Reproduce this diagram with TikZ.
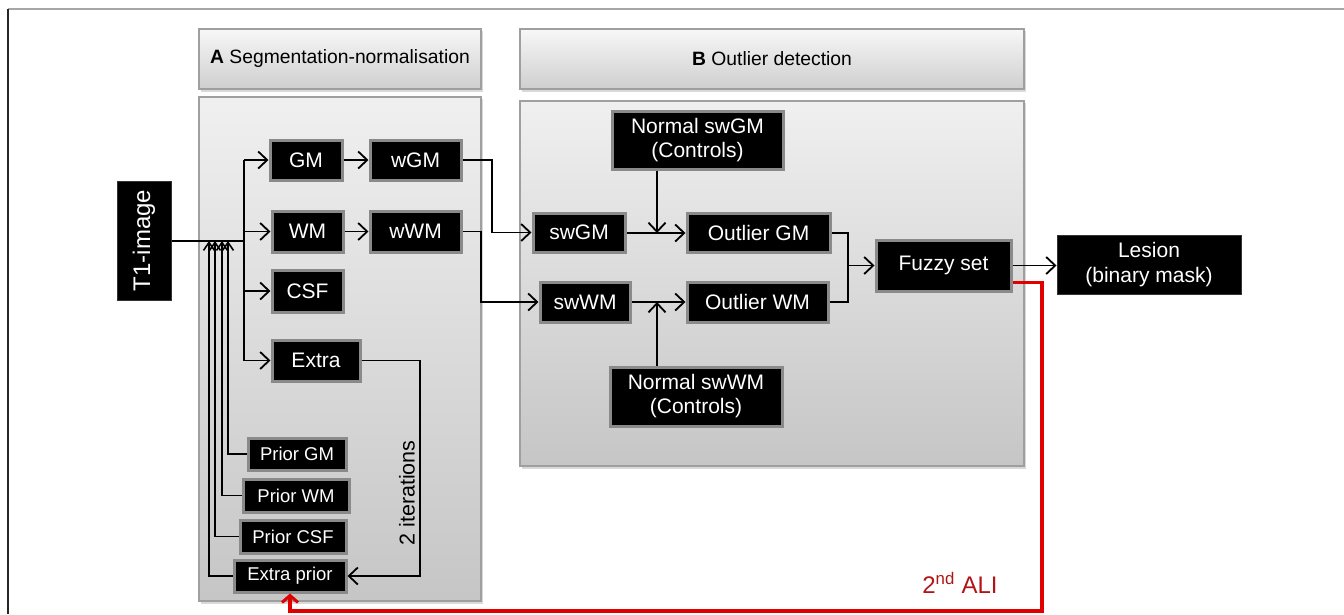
\documentclass[tikz,border=0pt]{standalone}
\usepackage{fontspec}
\setmainfont{Liberation Sans}
\usetikzlibrary{arrows.meta,calc}
\definecolor{boxedge}{HTML}{8A8A8A}
\definecolor{alired}{HTML}{E00000}
\definecolor{alitext}{HTML}{B01515}
\tikzset{
  blk/.style={fill=black,draw=boxedge,line width=3pt,text=white,inner sep=0pt,
    font=\fontsize{21}{24}\selectfont,align=center},
  blkprior/.style={blk,font=\fontsize{18.5}{21}\selectfont},
  blkout/.style={fill=black,draw=black!80,line width=1pt,text=white,inner sep=0pt,
    font=\fontsize{21}{25}\selectfont,align=center},
  hdr/.style={draw=gray!75,line width=1.2pt,top color=gray!6,bottom color=gray!38},
  pnl/.style={draw=gray!75,line width=1.2pt,top color=gray!12,bottom color=gray!45},
  conn/.style={line width=1.8pt,draw=black},
  arr/.style={conn,-{Straight Barb[length=9pt,width=17pt,line width=1.8pt]}},
  parr/.style={conn,-{Straight Barb[length=8pt,width=11pt,line width=1.6pt]}},
  redarr/.style={line width=3.5pt,draw=alired,-{Straight Barb[length=7pt,width=16pt,line width=3pt]}},
}
\begin{document}
\begin{tikzpicture}[x=1pt,y=-1pt]
\useasboundingbox (0,0) rectangle (1344,614);
% outer frame
\draw[gray!70,line width=1.5pt] (8,9) -- (1344,9);
\draw[black!85,line width=2pt] (8,9) -- (8,614);
% headers and panels
\fill[gray!30] (201,31) rectangle (483,92);
\fill[gray!30] (522,31) rectangle (1026,92);
\path[hdr] (199,29) rectangle (481,89);
\path[hdr] (520,29) rectangle (1024,89);
\node[font=\fontsize{19.3}{22}\selectfont] (ha) at (340,59) {\textbf{A} Segmentation-normalisation};
\node[font=\fontsize{19.3}{22}\selectfont] (hb) at (772,59) {\textbf{B} Outlier detection};
\fill[gray!30] (201,99) rectangle (483,604);
\fill[gray!30] (522,103) rectangle (1026,469);
\path[pnl] (199,97) rectangle (481,601);
\path[pnl] (520,101) rectangle (1024,466);
% nodes
\node[blkout,minimum width=54pt,minimum height=119pt,font=\fontsize{24}{26}\selectfont] (t1) at (144,240.5) {\rotatebox{90}{T1-image}};
\node[blk,minimum width=72pt,minimum height=40pt] (gm) at (306,160) {GM};
\node[blk,minimum width=91pt,minimum height=40pt] (wgm) at (415.5,160) {wGM};
\node[blk,minimum width=71pt,minimum height=41pt] (wm) at (307.5,231.5) {WM};
\node[blk,minimum width=91pt,minimum height=41pt] (wwm) at (415.5,231.5) {wWM};
\node[blk,minimum width=71pt,minimum height=42pt] (csf) at (307.5,291) {CSF};
\node[blk,minimum width=88pt,minimum height=41pt] (ex) at (316,360.5) {Extra};
\node[blkprior,minimum width=98pt,minimum height=32pt] (pgm) at (297,454) {Prior GM};
\node[blkprior,minimum width=106pt,minimum height=33pt] (pwm) at (296,495.5) {Prior WM};
\node[blkprior,minimum width=106pt,minimum height=33pt] (pcsf) at (293,536.5) {Prior CSF};
\node[blkprior,minimum width=112pt,minimum height=32pt] (ep) at (290,576) {Extra prior};
\node[blk,minimum width=92pt,minimum height=39pt] (swgm) at (579,232.5) {swGM};
\node[blk,minimum width=90pt,minimum height=40pt] (swwm) at (585,302) {swWM};
\node[blk,minimum width=171pt,minimum height=58pt] (ngm) at (697.5,140) {Normal swGM\\(Controls)};
\node[blk,minimum width=143pt,minimum height=39pt] (ogm) at (758.5,233) {Outlier GM};
\node[blk,minimum width=141pt,minimum height=40pt] (owm) at (757.5,302) {Outlier WM};
\node[blk,minimum width=172pt,minimum height=59pt] (nwm) at (696,396.5) {Normal swWM\\(Controls)};
\node[blk,minimum width=135pt,minimum height=51pt] (fz) at (943.5,265.5) {Fuzzy set};
\node[blkout,minimum width=184pt,minimum height=59pt] (les) at (1149,264.5) {Lesion\\(binary mask)};
% coordinates
\coordinate (bus) at (244,241);
\coordinate (b1) at (228,241);
\coordinate (b2) at (222,241);
\coordinate (b3) at (215,241);
\coordinate (b4) at (209,241);
\coordinate (itc) at (420,450);
\coordinate (c1) at (492,200);
\coordinate (c2) at (481,270);
\coordinate (j1) at (657,233);
\coordinate (j2) at (657,302);
\coordinate (c3) at (848,265.5);
\coordinate (r1) at (1042,611);
% connectors in A
\draw[conn] (t1.east |- bus) -- (bus);
\draw[conn] (bus |- gm.west) -- (bus |- ex.west);
\draw[arr] (bus |- gm.west) -- (gm.west);
\draw[arr] (bus |- wm.west) -- (wm.west);
\draw[arr] (bus |- csf.west) -- (csf.west);
\draw[arr] (bus |- ex.west) -- (ex.west);
\draw[arr] (gm.east) -- (wgm.west);
\draw[arr] (wm.east) -- (wwm.west);
\draw[parr] (pgm.west) -| (b1);
\draw[parr] (pwm.west) -| (b2);
\draw[parr] (pcsf.west) -| (b3);
\draw[parr] (ep.west) -| (b4);
\draw[arr] (ex.east) -| (itc) |- (ep.east);
\node[font=\fontsize{21.5}{24}\selectfont,rotate=90] (it) at (407,493) {2 iterations};
% connectors to B
\draw[arr] (wgm.east) -| (c1) |- (swgm.west);
\draw[arr] (wwm.east) -| (c2) |- (swwm.west);
\draw[arr] (swgm.east |- j1) -- (ogm.west |- j1);
\draw[arr] (swwm.east |- j2) -- (owm.west |- j2);
\draw[arr] (ngm.south -| j1) -- (j1);
\draw[arr] (nwm.north -| j2) -- (j2);
\draw[conn] (ogm.east) -| (c3);
\draw[conn] (owm.east) -| (c3);
\draw[arr] (c3) -- (fz.west);
\draw[arr] (fz.east) -- (les.west |- fz.east);
% feedback
\draw[redarr] ($(fz.south east)+(0,-10)$) -| (r1) -| (ep.south);
\node[text=alitext,font=\fontsize{24}{27}\selectfont] (ali) at (960,583) {2\textsuperscript{nd} ALI};
\end{tikzpicture}
\end{document}
